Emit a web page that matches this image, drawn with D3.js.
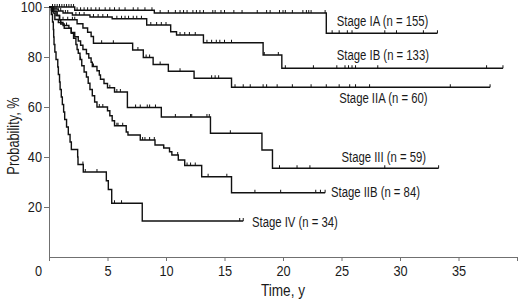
<!DOCTYPE html>
<html>
<head>
<meta charset="utf-8">
<script src="https://cdn.jsdelivr.net/npm/d3@7"></script>
<style>
  body { margin: 0; background: #fff; }
  svg text { font-family: "Liberation Sans", Arial, sans-serif; fill: #1a1a1a; }
</style>
</head>
<body>
<div id="curvas"></div>
<script>
// Kaplan-Meier curves by stage: [time (y), survival %] at each drop
const stageNames = ["Stage IA", "Stage IB", "Stage IIA", "Stage III", "Stage IIB", "Stage IV"];
const stageN = [155, 133, 60, 59, 84, 34];
const endTimes = [33.2, 38.8, 37.7, 33.3, 23.6, 16.6];

const stepsIA = [[0, 100], [2.2, 98.7], [9, 97.6], [23.7, 89.5]];
const stepsIB = [[0, 100], [0.4, 99.2], [0.8, 98.4], [1.2, 97.6], [2, 96.8], [3.5, 96], [5.4, 95.3],
    [8.35, 92.8], [10.4, 90.1], [10.9, 88.8], [13.2, 85.7], [18.3, 80.8], [19.9, 75.5]];
const stepsIIA = [[0, 100], [0.3, 98.3], [0.6, 96.6], [0.9, 94.9], [2.4, 93.3], [2.9, 91.6], [3.3, 89.9],
    [3.6, 88.2], [3.8, 85.5], [7.15, 82.8], [8.06, 79.8], [8.9, 77], [10.2, 74.3], [12.4, 71.5], [15.6, 67.9]];
const stepsIII = [[0, 100], [0.4, 98.3], [0.7, 96.6], [0.9, 94.9], [1, 93.2], [1.3, 91.5], [1.9, 89.8],
    [2.2, 88.1], [2.5, 86.4], [2.7, 84.7], [2.9, 83], [3.2, 81.3], [3.4, 79.6], [3.6, 77.9], [3.7, 76.2],
    [4.1, 74.5], [4.3, 72.8], [4.4, 71.1], [4.7, 69.4], [5, 67.7], [5.6, 66], [6.7, 59.8], [9.6, 56],
    [13.8, 49.5], [18.2, 42.8], [19.1, 35.5]];
const stepsIIB = [[0, 100], [0.2, 98.8], [0.35, 97.6], [0.5, 95], [0.8, 93.8], [1.2, 92.6], [1.7, 91.5],
    [1.9, 89.5], [2.1, 87.5], [2.3, 85], [2.4, 83], [2.5, 81.5], [2.65, 79], [2.8, 76.5], [3, 74],
    [3.2, 72], [3.35, 69.5], [3.5, 67], [3.7, 64.5], [3.9, 62], [4.1, 60], [5, 58.5], [5.2, 56.5],
    [5.4, 54.5], [5.6, 52.5], [6.6, 50], [6.75, 48.8], [7.8, 46.8], [9.06, 44.8], [9.8, 43.6],
    [10.3, 42.1], [10.5, 40.8], [11.05, 38.8], [11.6, 36.6], [13.05, 32.1], [15.6, 25.7]];
const stepsIV = [[0, 100], [0.2, 97], [0.3, 94], [0.37, 91], [0.4, 88], [0.43, 85], [0.5, 82], [0.6, 79],
    [0.75, 76], [0.8, 73], [0.9, 70], [0.95, 67], [1.05, 64], [1.14, 61], [1.25, 58], [1.34, 55],
    [1.5, 52], [1.65, 49], [1.8, 46], [1.91, 43], [2.45, 40], [2.48, 37], [2.93, 34], [4.9, 30.5],
    [5.07, 27], [5.36, 21.5], [7.97, 14.4]];

// censored observations (time, y)
const censorIA = [0.3, 0.5, 0.7, 0.9, 1.1, 1.3, 1.5, 1.7, 1.9, 2.1, 2.4, 2.7, 3, 3.3, 3.6, 4, 4.3, 4.8, 5.2,
    5.6, 6, 6.5, 7.2, 7.6, 8.2, 8.8, 9.5, 10.2, 10.8, 11.2, 11.5, 11.8, 12.3, 12.6, 12.9, 13.2, 14, 14.2,
    14.7, 15, 15.8, 16.5, 17.8, 18.6, 18.9, 19.7, 20, 20.2, 20.8, 21.7, 22, 22.2, 22.4, 23.6, 24.2, 24.8,
    25.5, 25.9, 28.7, 29.7, 32, 33.2];
const censorIB = [0.6, 1, 1.4, 1.6, 2.3, 2.6, 3, 3.8, 4.2, 4.6, 5, 5.8, 6.2, 6.5, 6.8, 7.2, 7.5, 7.9, 8.7,
    9.2, 9.6, 10, 11.2, 11.6, 12, 12.5, 13.5, 13.9, 14.3, 14.6, 15, 15.6, 18.4, 19.6, 20.2, 22.6, 24.6,
    25.3, 25.6, 25.9, 26.2, 28.1, 37.4, 38.8];
const censorIIA = [1.2, 1.6, 2, 2.2, 4.5, 5.5, 7.6, 8.3, 8.6, 9.5, 11.2, 13.9, 14.2, 14.5, 15.9, 16.6, 17.2,
    18.3, 18.6, 19.5, 20.8, 22.4, 23.7, 24.8, 25.7, 26.2, 27.4, 34.3, 37.7];
const censorIII = [3.8, 5.2, 5.8, 6.1, 7.4, 7.8, 8.4, 8.6, 9.1, 10.8, 12.1, 12.2, 13.5, 13.7, 15.5, 19.7,
    21.2, 22.3, 28.7, 33.3];
const censorIIB = [1, 1.5, 2.7, 4.3, 4.6, 5.8, 5.9, 6.3, 8, 8.2, 8.6, 9, 9.8, 11, 11.8, 12.1, 12.5, 13.6,
    15.2, 17.6, 19.8, 22.8, 23.2, 23.6];
const censorIV = [2.9, 3.1, 4.1, 5.6, 6.2, 16.3, 16.6];

const xTicks = [0, 5, 10, 15, 20, 25, 30, 35, 40];
const xTickLabels = ["0", "5", "10", "15", "20", "25", "30", "35", ""];
const yTicks = [20, 40, 60, 80, 100];

const allSteps = [stepsIA, stepsIB, stepsIIA, stepsIII, stepsIIB, stepsIV];
const allCensors = [censorIA, censorIB, censorIIA, censorIII, censorIIB, censorIV];

// where each stage label sits, in data units (time, %)
const labelAt = [[24.6, 92.6], [24.6, 79], [24.8, 61.8], [25, 38.2], [24.1, 24.2], [17.35, 12.2]];

const svgWidth = 520, svgHeight = 302;
const margin = { top: 7, right: 3, bottom: 45, left: 49 };

const svg = d3.select("#curvas")
    .append("svg")
    .attr("width", svgWidth)
    .attr("height", svgHeight);

const x = d3.scaleLinear().domain([0, 40]).range([margin.left, svgWidth - margin.right]);
const y = d3.scaleLinear().domain([0, 100]).range([svgHeight - margin.bottom, margin.top]);

function survAt(steps, t) {
    let p = steps[0][1];
    steps.forEach(s => { if (s[0] <= t) p = s[1]; });
    return p;
}

// the original type is a condensed sans: squeeze Liberation Sans sideways
function condense(sel, k) {
    sel.each(function () {
        const w = this.getComputedTextLength();
        d3.select(this).attr("textLength", w * k).attr("lengthAdjust", "spacingAndGlyphs");
    });
}

const line = d3.line()
    .x(d => x(d[0]))
    .y(d => y(d[1]))
    .curve(d3.curveStepAfter);

// Ejes
const ejeX = svg.append("g")
    .attr("transform", `translate(0, ${y(0)})`)
    .call(d3.axisBottom(x)
        .tickValues(xTicks)
        .tickSize(4)
        .tickSizeOuter(0)
        .tickPadding(4)
        .tickFormat((d, i) => xTickLabels[i]));

ejeX.selectAll("text").filter(d => d === 0).attr("dx", -11);

const ejeY = svg.append("g")
    .attr("transform", `translate(${x(0)}, 0)`)
    .call(d3.axisLeft(y)
        .tickValues(yTicks)
        .tickSize(5)
        .tickSizeOuter(0)
        .tickPadding(2));

[ejeX, ejeY].forEach(g => {
    g.select(".domain").attr("stroke", "#707070");
    g.selectAll(".tick line").attr("stroke", "#707070");
    g.selectAll("text").style("font-size", "15px").attr("fill", "#1a1a1a")
        .call(condense, 0.85);
});

// Curvas
allSteps.forEach((steps, i) => {
    const pts = steps.concat([[endTimes[i], steps[steps.length - 1][1]]]);

    svg.append("path")
        .datum(pts)
        .attr("d", line)
        .attr("fill", "none")
        .attr("stroke", "#111")
        .attr("stroke-width", 1.4);

    svg.selectAll(null)
        .data(allCensors[i])
        .enter()
        .append("line")
        .attr("x1", d => x(d))
        .attr("x2", d => x(d))
        .attr("y1", d => y(survAt(steps, d)))
        .attr("y2", d => y(survAt(steps, d)) - 3)
        .attr("stroke", "#111")
        .attr("stroke-width", 1);

    svg.append("text")
        .attr("x", x(labelAt[i][0]))
        .attr("y", y(labelAt[i][1]))
        .style("font-size", "15.5px")
        .text(`${stageNames[i]} (n = ${stageN[i]})`)
        .call(condense, 0.73);
});

// Titulos de ejes
svg.append("text")
    .attr("transform", `translate(19, 136) rotate(-90)`)
    .attr("text-anchor", "middle")
    .style("font-size", "16px")
    .text("Probability, %")
    .call(condense, 0.8);

svg.append("text")
    .attr("x", (x(0) + x(40)) / 2)
    .attr("y", 296)
    .attr("text-anchor", "middle")
    .style("font-size", "16px")
    .text("Time, y")
    .call(condense, 0.85);
</script>
</body>
</html>
